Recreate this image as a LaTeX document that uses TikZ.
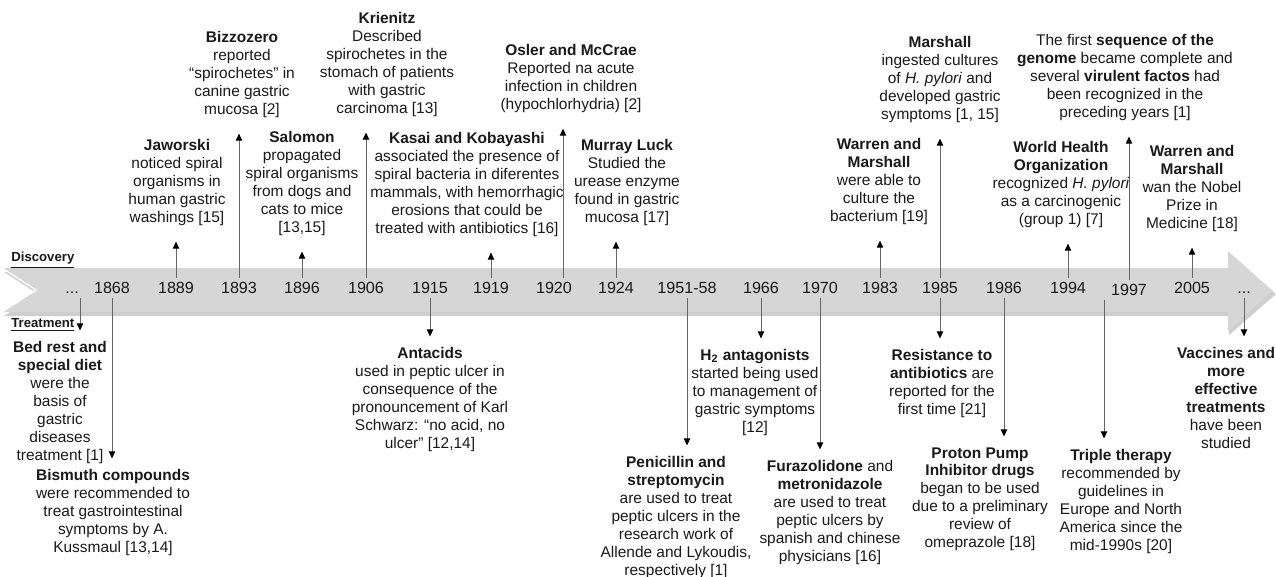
\documentclass[tikz,border=0pt]{standalone}
\usepackage{fontspec}
\setmainfont{Liberation Sans}
\usepackage{tikz}
\usetikzlibrary{arrows.meta,positioning,calc}

\begin{document}
\begin{tikzpicture}[x=0.02cm, y=-0.02cm,
  every node/.style={font=\fontsize{8.8}{10.2}\selectfont, text=black!90, inner sep=0pt},
  yearlbl/.style={font=\fontsize{9.2}{10}\selectfont, text height=6.5pt, text depth=0pt, inner sep=2pt},
  evt/.style={align=center, anchor=north},
  lane/.style={anchor=west, font=\fontsize{7.5}{9}\selectfont\bfseries},
  arrup/.style={draw=black!60, line width=0.55pt, shorten >=9pt, -{Triangle[length=4pt,width=3.6pt,color=black]}},
  arrdn/.style={arrup, shorten >=6pt}
]
\useasboundingbox (0,0) rectangle (1276,576);

% timeline band
\fill[black!35, opacity=.55] (4,272) -- (1229,272) -- (1229,255) -- (1276,294) -- (1229,335) -- (1229,316) -- (4,316) -- (38,294) -- cycle;
\fill[black!16] (2,268) -- (1228,268) -- (1228,250) -- (1273,290) -- (1228,331) -- (1228,312) -- (2,312) -- (36,290) -- cycle;
\draw[white, line width=0.8pt] (2,268) -- (36,290) -- (2,312);
\draw[white, line width=0.8pt] (1228,250) -- (1273,290);

% years
\node[yearlbl] (dotsL) at (72,288) {...};
\node[yearlbl] (y1868) at (112,288) {1868};
\node[yearlbl] (y1889) at (176,288) {1889};
\node[yearlbl] (y1893) at (239,288) {1893};
\node[yearlbl] (y1896) at (302,288) {1896};
\node[yearlbl] (y1906) at (366,288) {1906};
\node[yearlbl] (y1915) at (430,288) {1915};
\node[yearlbl] (y1919) at (491,288) {1919};
\node[yearlbl] (y1920) at (554,288) {1920};
\node[yearlbl] (y1924) at (616,288) {1924};
\node[yearlbl] (y1951) at (687,288) {1951-58};
\node[yearlbl] (y1966) at (761,288) {1966};
\node[yearlbl] (y1970) at (820,288) {1970};
\node[yearlbl] (y1983) at (880,288) {1983};
\node[yearlbl] (y1985) at (940,288) {1985};
\node[yearlbl] (y1986) at (1004,288) {1986};
\node[yearlbl] (y1994) at (1068,288) {1994};
\node[yearlbl] (y1997) at (1129,290) {1997};
\node[yearlbl] (y2005) at (1192,288) {2005};
\node[yearlbl] (dotsR) at (1244,288) {...};

\node[lane] (disc) at (11,260) {\underline{Discovery}};
\node[lane] (treat) at (11,325) {\underline{Treatment}};

% discovery
\node[evt] (bizz) at (242,31) {\textbf{Bizzozero}\\ reported\\ ``spirochetes'' in\\ canine gastric\\ mucosa [2]};
\node[evt] (jaw) at (177,139) {\textbf{Jaworski}\\ noticed spiral\\ organisms in\\ human gastric\\ washings [15]};
\node[evt] (salo) at (302,131) {\textbf{Salomon}\\ propagated\\ spiral organisms\\ from dogs and\\ cats to mice\\ {[13,15]}};
\node[evt] (krie) at (387,12) {\textbf{Krienitz}\\ Described\\ spirochetes in the\\ stomach of patients\\ with gastric\\ carcinoma [13]};
\node[evt] (kasai) at (467,132) {\textbf{Kasai and Kobayashi}\\ associated the presence of\\ spiral bacteria in diferentes\\ mammals, with hemorrhagic\\ erosions that could be\\ treated with antibiotics [16]};
\node[evt] (osler) at (571,44) {\textbf{Osler and McCrae}\\ Reported na acute\\ infection in children\\ (hypochlorhydria) [2]};
\node[evt] (luck) at (627,139) {\textbf{Murray Luck}\\ Studied the\\ urease enzyme\\ found in gastric\\ mucosa [17]};
\node[evt] (warren) at (879,138) {\textbf{Warren and}\\ \textbf{Marshall}\\ were able to\\ culture the\\ bacterium [19]};
\node[evt] (marsh) at (940,36) {\textbf{Marshall}\\ ingested cultures\\ of \textit{H. pylori} and\\ developed gastric\\ symptoms [1, 15]};
\node[evt] (genome) at (1125,34) {The first \textbf{sequence of the}\\ \textbf{genome} became complete and\\ several \textbf{virulent factos} had\\ been recognized in the\\ preceding years [1]};
\node[evt] (who) at (1061,141) {\textbf{World Health}\\ \textbf{Organization}\\ recognized \textit{H. pylori}\\ as a carcinogenic\\ (group 1) [7]};
\node[evt] (nobel) at (1192,145) {\textbf{Warren and}\\ \textbf{Marshall}\\ wan the Nobel\\ Prize in\\ Medicine [18]};

% treatment
\node[evt] (bed) at (60,341) {\textbf{Bed rest and}\\ \textbf{special diet}\\ were the\\ basis of\\ gastric\\ diseases\\ treatment [1]};
\node[evt] (bism) at (113,469) {\textbf{Bismuth compounds}\\ were recommended to\\ treat gastrointestinal\\ symptoms by A.\\ Kussmaul [13,14]};
\node[evt] (antac) at (430,347) {\textbf{Antacids}\\ used in peptic ulcer in\\ consequence of the\\ pronouncement of Karl\\ Schwarz: ``no acid, no\\ ulcer'' [12,14]};
\node[evt] (penic) at (676,456) {\textbf{Penicillin and}\\ \textbf{streptomycin}\\ are used to treat\\ peptic ulcers in the\\ research work of\\ Allende and Lykoudis,\\ respectively [1]};
\node[evt] (htwo) at (755,349) {\textbf{H\textsubscript{2} antagonists}\\ started being used\\ to management of\\ gastric symptoms\\ {[12]}};
\node[evt] (furaz) at (830,460) {\textbf{Furazolidone} and\\ \textbf{metronidazole}\\ are used to treat\\ peptic ulcers by\\ spanish and chinese\\ physicians [16]};
\node[evt] (resist) at (942,349) {\textbf{Resistance to}\\ \textbf{antibiotics} are\\ reported for the\\ first time [21]};
\node[evt] (proton) at (980,447) {\textbf{Proton Pump}\\ \textbf{Inhibitor drugs}\\ began to be used\\ due to a preliminary\\ review of\\ omeprazole [18]};
\node[evt] (triple) at (1121,449) {\textbf{Triple therapy}\\ recommended by\\ guidelines in\\ Europe and North\\ America since the\\ mid-1990s [20]};
\node[evt] (vacc) at (1226,347) {\textbf{Vaccines and}\\ \textbf{more}\\ \textbf{effective}\\ \textbf{treatments}\\ have been\\ studied};

% off-centre arrow roots
\coordinate (d1920) at ([xshift=0.18cm]y1920.north);
\coordinate (tdots) at ([xshift=0.16cm]dotsL.south);
\coordinate (t1997) at ([xshift=-0.5cm]y1997.south);

\draw[arrup] (y1889.north) -- (y1889.north |- jaw.south);
\draw[arrup] (y1893.north) -- (y1893.north |- bizz.south);
\draw[arrup] (y1896.north) -- (y1896.north |- salo.south);
\draw[arrup] (y1906.north) -- (y1906.north |- krie.south);
\draw[arrup] (y1919.north) -- (y1919.north |- kasai.south);
\draw[arrup] (d1920) -- (d1920 |- osler.south);
\draw[arrup] (y1924.north) -- (y1924.north |- luck.south);
\draw[arrup] (y1983.north) -- (y1983.north |- warren.south);
\draw[arrup] (y1985.north) -- (y1985.north |- marsh.south);
\draw[arrup] (y1994.north) -- (y1994.north |- who.south);
\draw[arrup] (y1997.north) -- (y1997.north |- genome.south);
\draw[arrup] (y2005.north) -- (y2005.north |- nobel.south);

\draw[arrdn] (tdots) -- (tdots |- bed.north);
\draw[arrdn] (y1868.south) -- (y1868.south |- bism.north);
\draw[arrdn] (y1915.south) -- (y1915.south |- antac.north);
\draw[arrdn] (y1951.south) -- (y1951.south |- penic.north);
\draw[arrdn] (y1966.south) -- (y1966.south |- htwo.north);
\draw[arrdn] (y1970.south) -- (y1970.south |- furaz.north);
\draw[arrdn] (y1985.south) -- (y1985.south |- resist.north);
\draw[arrdn] (y1986.south) -- (y1986.south |- proton.north);
\draw[arrdn] (t1997) -- (t1997 |- triple.north);
\draw[arrdn] (dotsR.south) -- (dotsR.south |- vacc.north);
\end{tikzpicture}
\end{document}
